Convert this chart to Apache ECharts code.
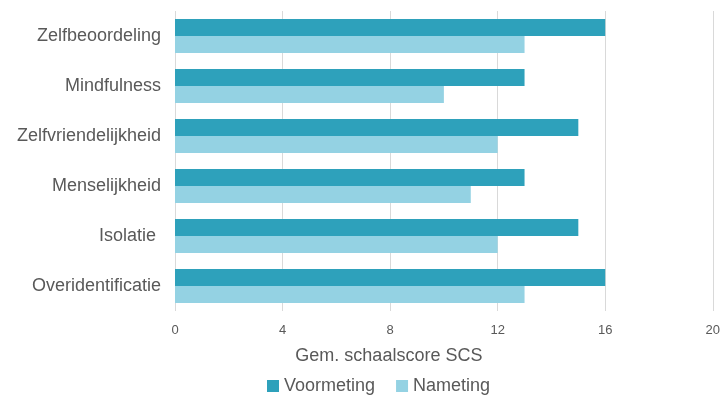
<!DOCTYPE html>
<html>
<head>
<meta charset="utf-8">
<script src="https://cdn.jsdelivr.net/npm/echarts@6/dist/echarts.min.js"></script>
<style>
  html, body { margin: 0; padding: 0; background: #fff; }
  #chart { width: 723px; height: 396px; }
</style>
</head>
<body>
<div id="chart"></div>
<script>
// SCS subscales, listed top to bottom
const categories = ['Zelfbeoordeling', 'Mindfulness', 'Zelfvriendelijkheid', 'Menselijkheid', 'Isolatie ', 'Overidentificatie'];
const voormeting = [16, 13, 15, 13, 15, 16];
const nameting = [13, 10, 12, 11, 12, 13];
const xTicks = [0, 4, 8, 12, 16, 20];

const font = '"Liberation Sans", Arial, sans-serif';
const textColor = '#595959';

const chart = echarts.init(document.getElementById('chart'), null, { renderer: 'canvas' });
chart.setOption({
  animation: false,
  textStyle: { fontFamily: font },
  grid: { left: 175, right: 9.5, top: 11, bottom: 85, containLabel: false },
  legend: {
    left: 267,
    top: 377,
    padding: 0,
    itemWidth: 12,
    itemHeight: 12,
    itemGap: 21,
    icon: 'rect',
    textStyle: { fontFamily: font, fontSize: 18, color: textColor },
    data: ['Voormeting', 'Nameting']
  },
  xAxis: {
    type: 'value',
    min: xTicks[0],
    max: xTicks[xTicks.length - 1],
    interval: xTicks[1] - xTicks[0],
    name: 'Gem. schaalscore SCS',
    nameLocation: 'middle',
    nameGap: 36,
    nameTextStyle: { fontFamily: font, fontSize: 18, color: textColor, padding: [0, 110, 0, 0] },
    axisLine: { show: false },
    axisTick: { show: false },
    axisLabel: { fontFamily: font, fontSize: 13, color: textColor, margin: 13 },
    splitLine: { show: true, lineStyle: { color: '#d9d9d9', width: 1 } }
  },
  yAxis: {
    type: 'category',
    inverse: true,
    data: categories,
    axisLine: { show: false },
    axisTick: { show: false },
    axisLabel: { fontFamily: font, fontSize: 18, color: textColor, margin: 14 }
  },
  series: [
    {
      name: 'Voormeting',
      type: 'bar',
      data: voormeting,
      barGap: '0%',
      barCategoryGap: '32%',
      itemStyle: { color: '#2ea1bb' }
    },
    {
      name: 'Nameting',
      type: 'bar',
      data: nameting,
      barGap: '0%',
      barCategoryGap: '32%',
      itemStyle: { color: '#94d2e3' }
    }
  ]
});
</script>
</body>
</html>
